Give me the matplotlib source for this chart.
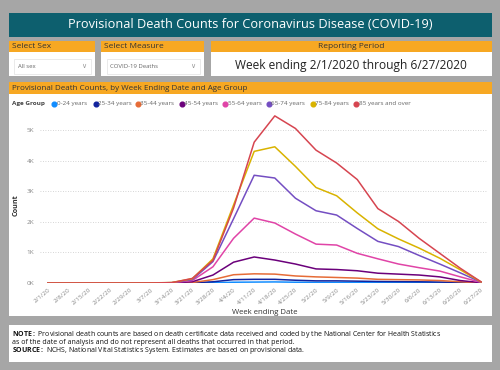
import numpy as np
import matplotlib.pyplot as plt
from matplotlib.patches import Rectangle
from matplotlib.lines import Line2D

plt.rcParams['font.family'] = ['Open Sans', 'DejaVu Sans']
plt.rcParams['mathtext.fontset'] = 'custom'
plt.rcParams['mathtext.bf'] = 'Open Sans:bold'

weeks = ['2/1/20', '2/8/20', '2/15/20', '2/22/20', '2/29/20', '3/7/20', '3/14/20',
         '3/21/20', '3/28/20', '4/4/20', '4/11/20', '4/18/20', '4/25/20', '5/2/20',
         '5/9/20', '5/16/20', '5/23/20', '5/30/20', '6/6/20', '6/13/20', '6/20/20', '6/27/20']
age_groups = ['0-24 years', '25-34 years', '35-44 years', '45-54 years',
              '55-64 years', '65-74 years', '75-84 years', '85 years and over']
colors = ['#118DFF', '#12239E', '#E66C37', '#6B007B', '#E044A7', '#744EC2', '#D9B300', '#D64550']

d_0_24 = [0, 0, 0, 0, 0, 0, 0, 2, 10, 25, 30, 35, 25, 20, 20, 18, 15, 14, 12, 10, 5, 1]
d_25_34 = [0, 0, 0, 0, 0, 0, 1, 5, 40, 110, 120, 120, 90, 70, 70, 60, 50, 45, 40, 30, 15, 2]
d_35_44 = [0, 0, 0, 0, 0, 0, 2, 15, 110, 270, 300, 290, 230, 200, 180, 160, 120, 110, 100, 80, 40, 5]
d_45_54 = [0, 0, 0, 0, 0, 1, 5, 40, 260, 680, 850, 750, 620, 460, 440, 400, 320, 290, 260, 200, 80, 10]
d_55_64 = [0, 0, 0, 0, 0, 2, 10, 80, 530, 1460, 2120, 1960, 1600, 1270, 1240, 970, 790, 620, 500, 390, 200, 20]
d_65_74 = [0, 0, 0, 0, 1, 2, 12, 110, 700, 2100, 3520, 3430, 2770, 2360, 2220, 1780, 1360, 1190, 900, 620, 330, 30]
d_75_84 = [0, 0, 0, 0, 1, 3, 15, 140, 790, 2550, 4300, 4450, 3810, 3120, 2850, 2290, 1770, 1440, 1140, 810, 430, 35]
d_85_up = [0, 0, 0, 0, 0, 2, 10, 150, 740, 2450, 4600, 5460, 5050, 4340, 3920, 3380, 2430, 2010, 1460, 970, 480, 40]
series = [d_0_24, d_25_34, d_35_44, d_45_54, d_55_64, d_65_74, d_75_84, d_85_up]

W, H = 500, 370
fig = plt.figure(figsize=(5, 3.7), dpi=100, facecolor='#a6a6a6')


def fx(px):
    return px / W


def fy(py):
    return 1 - py / H


def box(x0, y0, x1, y1, color, ec='none'):
    fig.add_artist(Rectangle((fx(x0), fy(y1)), (x1 - x0) / W, (y1 - y0) / H,
                             transform=fig.transFigure, facecolor=color,
                             edgecolor=ec, lw=0.6, zorder=-5))


teal = '#0d5f6e'
orange = '#f7a823'

# title bar
box(9, 13, 492, 37, teal)
fig.text(fx(250), fy(25), 'Provisional Death Counts for Coronavirus Disease (COVID-19)',
         color='white', fontsize=9.2, ha='center', va='center')

# slicer headers
box(9, 41, 95, 52, orange)
box(101, 41, 204, 52, orange)
box(211, 41, 492, 52, orange)
box(9, 52, 95, 76, 'white')
box(101, 52, 204, 76, 'white')
box(211, 52, 492, 76, 'white')
fig.text(fx(12), fy(46.5), 'Select Sex', fontsize=6, color='#333', va='center')
fig.text(fx(104), fy(46.5), 'Select Measure', fontsize=6, color='#333', va='center')
fig.text(fx(351), fy(46.5), 'Reporting Period', fontsize=6, color='#333', va='center', ha='center')
box(14, 59, 91, 74, 'white', ec='#e6e6e6')
box(107, 59, 200, 74, 'white', ec='#e6e6e6')
fig.text(fx(18), fy(67), 'All sex', fontsize=4.3, color='#666', va='center')
fig.text(fx(110), fy(67), 'COVID-19 Deaths', fontsize=4.3, color='#666', va='center')
fig.text(fx(84), fy(66.5), '\u2228', fontsize=5, color='#999', va='center', ha='center')
fig.text(fx(193), fy(66.5), '\u2228', fontsize=5, color='#999', va='center', ha='center')
fig.text(fx(351), fy(66), 'Week ending 2/1/2020 through 6/27/2020',
         fontsize=8.6, color='#222', ha='center', va='center')

# chart panel
box(9, 82, 492, 94, orange)
fig.text(fx(12), fy(88), 'Provisional Death Counts, by Week Ending Date and Age Group',
         fontsize=5.8, color='#333', va='center')
box(9, 94, 492, 316, 'white')

# legend
fig.text(fx(12), fy(104), 'Age Group', fontsize=4.6, color='#444', weight='bold', va='center')
legend_x = [54.3, 95.7, 137.7, 181.7, 225, 268.7, 312.7, 356]
for lx, name, c in zip(legend_x, age_groups, colors):
    fig.add_artist(Line2D([fx(lx)], [fy(104)], marker='o', markersize=3.4, color=c,
                          transform=fig.transFigure))
    fig.text(fx(lx + 2.6), fy(104), name, fontsize=4.5, color='#666', va='center')

# line chart
ax = fig.add_axes([fx(39.75), fy(283), (488.2 - 39.75) / W, (283 - 111.6) / H])
ax.set_facecolor('none')
x = np.arange(len(weeks))
for vals, c in zip(series, colors):
    ax.plot(x, vals, color=c, lw=1.1)
ax.set_xlim(-0.4, 21.35)
ax.set_ylim(0, 5600)
ax.set_yticks([0, 1000, 2000, 3000, 4000, 5000])
ax.set_yticklabels(['0K', '1K', '2K', '3K', '4K', '5K'])
ax.set_xticks(x)
ax.set_xticklabels(weeks, rotation=40, ha='right', rotation_mode='anchor')
ax.tick_params(length=0, labelsize=4.6, colors='#888')
ax.tick_params(axis='y', pad=4)
ax.tick_params(axis='x', pad=3)
ax.grid(axis='y', linestyle=(0, (1, 2)), color='#c8c8c8', lw=0.6)
ax.set_axisbelow(True)
for s in ax.spines.values():
    s.set_visible(False)
fig.text(fx(16), fy(205), 'Count', fontsize=5.2, color='#333', weight='bold',
         rotation=90, va='center', ha='center')
fig.text(fx(265), fy(312), 'Week ending Date', fontsize=5.6, color='#333', ha='center', va='center')

# note panel
box(9, 325, 492, 362, 'white')
fig.text(fx(12), fy(335), r'$\bf{NOTE:}$ Provisional death counts are based on death certificate data received and coded by the National Center for Health Statistics',
         fontsize=5, color='#111', va='center')
fig.text(fx(12), fy(342.7), 'as of the date of analysis and do not represent all deaths that occurred in that period.',
         fontsize=5, color='#111', va='center')
fig.text(fx(12), fy(350.3), r'$\bf{SOURCE:}$ NCHS, National Vital Statistics System. Estimates are based on provisional data.',
         fontsize=5, color='#111', va='center')

fig.savefig('out.png', dpi=100, facecolor=fig.get_facecolor())
